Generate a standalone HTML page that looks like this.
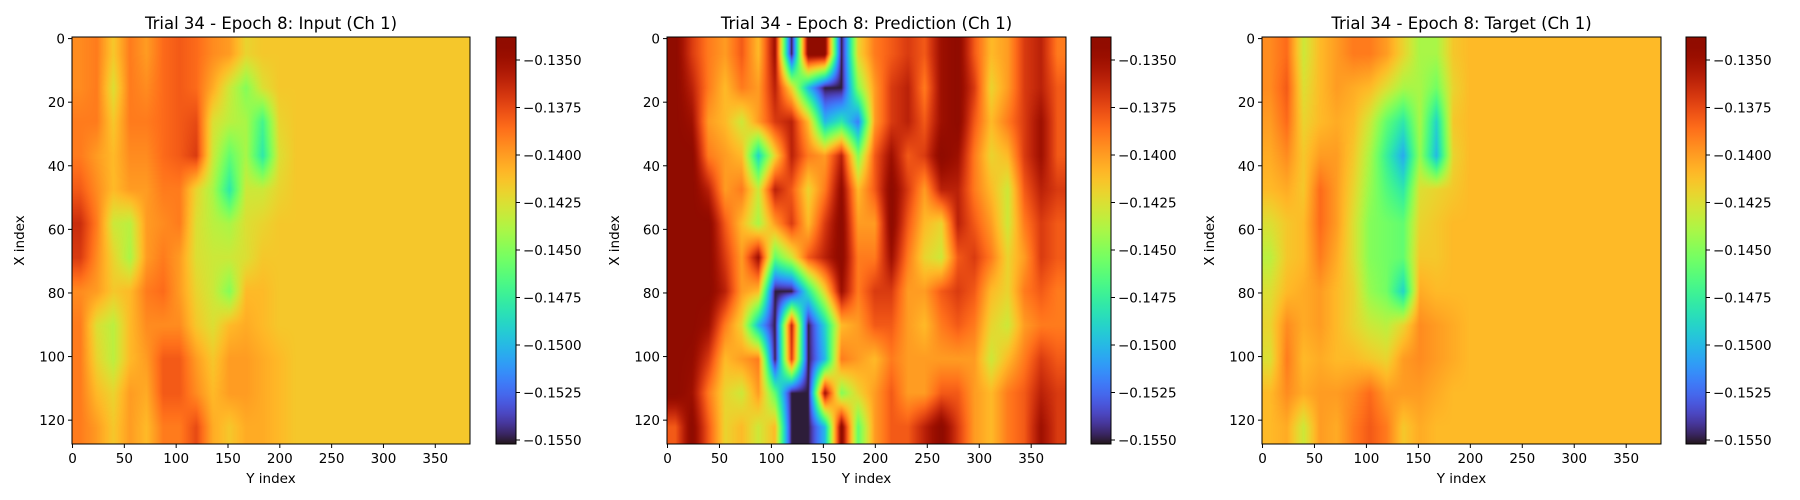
<!DOCTYPE html>
<html><head><meta charset="utf-8">
<style>
html,body{margin:0;padding:0;background:#fff;}
#root{position:relative;width:1800px;height:500px;overflow:hidden;font-family:"DejaVu Sans","Liberation Sans",sans-serif;}
canvas{position:absolute;}
svg{position:absolute;left:0;top:0;}
</style></head>
<body>
<div id="root">
<svg id="svg" width="1800" height="500"></svg>
</div>
<script>
// values in thousandths (e.g. -140 means -0.1400); rows = X index (12 bands), cols = Y index (24 bands)
const inputGrid = [
[-139.5,-139,-141.5,-139,-140,-138.5,-138,-138.5,-139.5,-140,-142,-141.5,-141.5,-141.5,-141.5,-141.5,-141.5,-141.5,-141.5,-141.5,-141.5,-141.5,-141.5,-141.5],
[-139.5,-139,-142.5,-139,-139.5,-138.5,-138,-138.5,-140.5,-143,-145,-142.5,-141.5,-141.5,-141.5,-141.5,-141.5,-141.5,-141.5,-141.5,-141.5,-141.5,-141.5,-141.5],
[-139,-139,-141.5,-139,-139,-138.5,-138,-137.5,-142.5,-143.5,-144,-147,-142,-141.5,-141.5,-141.5,-141.5,-141.5,-141.5,-141.5,-141.5,-141.5,-141.5,-141.5],
[-139,-140,-141,-139.5,-139.5,-138.5,-138,-137,-143,-146,-144,-148,-142.5,-141.5,-141.5,-141.5,-141.5,-141.5,-141.5,-141.5,-141.5,-141.5,-141.5,-141.5],
[-138,-139.5,-141,-140,-140,-139,-139,-142,-144,-148,-143,-143,-142,-141.5,-141.5,-141.5,-141.5,-141.5,-141.5,-141.5,-141.5,-141.5,-141.5,-141.5],
[-136.5,-139,-143,-143.5,-140,-139.5,-139,-142.5,-143.5,-144,-142.5,-142,-141.5,-141.5,-141.5,-141.5,-141.5,-141.5,-141.5,-141.5,-141.5,-141.5,-141.5,-141.5],
[-137,-139.5,-142,-144,-140,-139,-140,-142.5,-143,-143,-142.5,-141.5,-141.5,-141.5,-141.5,-141.5,-141.5,-141.5,-141.5,-141.5,-141.5,-141.5,-141.5,-141.5],
[-139.5,-140,-141.5,-141,-139,-138.5,-140,-142,-143,-145,-141,-141,-141.5,-141.5,-141.5,-141.5,-141.5,-141.5,-141.5,-141.5,-141.5,-141.5,-141.5,-141.5],
[-139,-142.5,-143.5,-141,-139.5,-139.5,-139.5,-141.5,-142.5,-141,-140.5,-141,-141.5,-141.5,-141.5,-141.5,-141.5,-141.5,-141.5,-141.5,-141.5,-141.5,-141.5,-141.5],
[-139,-142,-143.5,-141,-140,-138,-138,-140,-141.5,-140,-140,-140.5,-141,-141.5,-141.5,-141.5,-141.5,-141.5,-141.5,-141.5,-141.5,-141.5,-141.5,-141.5],
[-139,-141,-142,-140,-140.5,-138,-138,-139.5,-141,-140,-140,-140.5,-141,-141.5,-141.5,-141.5,-141.5,-141.5,-141.5,-141.5,-141.5,-141.5,-141.5,-141.5],
[-139,-140,-141.5,-140,-141,-139,-139,-137.5,-140.5,-141.5,-140.5,-140.5,-141,-141.5,-141.5,-141.5,-141.5,-141.5,-141.5,-141.5,-141.5,-141.5,-141.5,-141.5]
];
const predGrid = [
[-134,-137,-139,-140,-138,-141,-135,-155,-134,-134,-155,-142,-139,-138,-137,-138,-135,-134,-138,-141,-140,-137,-136,-139],
[-134,-136,-139,-141,-139,-140,-136,-142,-150,-155,-155,-145,-140,-137,-136,-139,-135,-134,-137,-142,-140,-137,-136,-138],
[-134,-135,-140,-141,-143,-140,-137,-136,-141,-150,-148,-152,-140,-137,-136,-138,-135,-134,-138,-141,-139,-137,-135,-138],
[-134,-134,-139,-140,-141,-149,-142,-136,-139,-140,-136,-145,-138,-135,-138,-137,-134,-135,-139,-142,-141,-137,-135,-138],
[-134,-134,-136,-140,-139,-143,-136,-138,-142,-139,-134.5,-141,-138,-134,-137,-140,-136,-136,-139,-141,-143,-138,-136,-137],
[-134,-134,-134,-138,-141,-144,-140,-137,-141,-137,-134,-140,-140,-134,-138,-141,-142,-136,-138,-140,-143,-139,-137,-138],
[-134,-134,-134,-137,-140,-135,-146,-143,-138,-136,-134,-139,-139,-135,-139,-142,-143,-138,-137,-139,-142,-140,-137,-138],
[-134,-134,-134,-136,-140,-141,-155,-155,-148,-142,-135,-139,-137,-137,-140,-140,-138,-137,-138,-141,-142,-139,-138,-139],
[-134,-134,-135,-139,-142,-150,-155,-136,-155,-149,-141,-140,-138,-138,-140,-141,-139,-138,-139,-142,-143,-140,-139,-139],
[-134,-134.5,-137,-141,-140,-139,-155,-137,-155,-150,-139,-140,-141,-139,-140,-140,-140,-140,-140,-143,-141,-139,-137,-138],
[-134,-135,-139,-142,-143,-140,-146,-155,-155,-135,-145,-142,-140,-138,-140,-140,-138,-138,-140,-141,-139,-138,-136,-137],
[-138,-134,-138,-142,-141,-143,-141,-155,-155,-150,-134,-146,-140,-138,-138,-136,-134,-137,-140,-141,-139,-138,-135,-137]
];
const targetGrid = [
[-139.5,-138.5,-143,-141,-140,-139,-139,-140,-142,-144,-144,-141.5,-141,-141,-141,-141,-141,-141,-141,-141,-141,-141,-141,-141],
[-139.5,-138,-142.5,-141,-140,-140.5,-141,-142.5,-144,-144,-145.5,-142,-141,-141,-141,-141,-141,-141,-141,-141,-141,-141,-141,-141],
[-140,-138.5,-142,-141,-140.5,-141,-143,-146,-148,-144,-149,-141.5,-141,-141,-141,-141,-141,-141,-141,-141,-141,-141,-141,-141],
[-140.5,-139.5,-141.5,-140,-140,-141.5,-144,-147.5,-150.5,-144.5,-150,-142,-141,-141,-141,-141,-141,-141,-141,-141,-141,-141,-141,-141],
[-141,-140.5,-141.5,-138.5,-140,-142,-144.5,-146.5,-148,-142.5,-142,-141.5,-141,-141,-141,-141,-141,-141,-141,-141,-141,-141,-141,-141],
[-142.5,-141.5,-141,-138.5,-140,-142.5,-145,-145.5,-146,-142,-141.5,-141,-141,-141,-141,-141,-141,-141,-141,-141,-141,-141,-141,-141],
[-143.5,-141.5,-141,-139,-140.5,-142.5,-145,-145.5,-146,-141.5,-141.5,-141,-141,-141,-141,-141,-141,-141,-141,-141,-141,-141,-141,-141],
[-142.5,-141,-140.5,-140,-141,-142,-144.5,-145.5,-149,-140.5,-141,-141,-141,-141,-141,-141,-141,-141,-141,-141,-141,-141,-141,-141],
[-142,-139.5,-140.5,-140,-141,-142,-143,-143.5,-142,-139.5,-140,-140.5,-141,-141,-141,-141,-141,-141,-141,-141,-141,-141,-141,-141],
[-142.5,-139,-141,-140.5,-141,-141,-141.5,-142,-140,-139.5,-140,-140.5,-141,-141,-141,-141,-141,-141,-141,-141,-141,-141,-141,-141],
[-141,-139.5,-140.5,-140,-140,-139.5,-138.5,-140,-140,-140,-140.5,-141,-141,-141,-141,-141,-141,-141,-141,-141,-141,-141,-141,-141],
[-141,-140.5,-143,-140,-140.5,-139,-138,-139,-141.5,-140.5,-141,-141,-141,-141,-141,-141,-141,-141,-141,-141,-141,-141,-141,-141]
];
const panelTitles = ["Trial 34 - Epoch 8: Input (Ch 1)","Trial 34 - Epoch 8: Prediction (Ch 1)","Trial 34 - Epoch 8: Target (Ch 1)"];
const xTicks = [0,50,100,150,200,250,300,350];
const yTicks = [0,20,40,60,80,100,120];
const cbarTicks = [-0.1350,-0.1375,-0.1400,-0.1425,-0.1450,-0.1475,-0.1500,-0.1525,-0.1550];
const vmin = -0.15521, vmax = -0.13379;
const NY = 384, NX = 128;

const panels = [{l:72,w:398,cb:496,name:'input'},{l:667,w:399,cb:1091,name:'prediction'},{l:1262,w:399,cb:1686,name:'target'}];
const grids = [inputGrid,predGrid,targetGrid];
const TOP = 37, H = 407, CBW = 20;
const FONT = 'DejaVu Sans, Liberation Sans, sans-serif';

function turbo(t){
  t=Math.max(0,Math.min(1,t));
  const r=0.13572138+t*(4.61539260+t*(-42.66032258+t*(132.13108234+t*(-152.94239396+t*59.28637943))));
  const g=0.09140261+t*(2.19418839+t*(4.84296658+t*(-14.18503333+t*(4.27729857+t*2.82956604))));
  const b=0.10667330+t*(12.64194608+t*(-60.58204836+t*(110.36276771+t*(-89.90310912+t*27.34824973))));
  return [Math.round(Math.max(0,Math.min(1,r))*255),Math.round(Math.max(0,Math.min(1,g))*255),Math.round(Math.max(0,Math.min(1,b))*255)];
}
const NS="http://www.w3.org/2000/svg";
const svg=document.getElementById('svg');
const root=document.getElementById('root');
function el(tag,attrs,parent){const e=document.createElementNS(NS,tag);for(const k in attrs)e.setAttribute(k,attrs[k]);(parent||svg).appendChild(e);return e;}
function txt(x,y,s,size,anchor,parent,extra){const t=el('text',Object.assign({x:x,y:y,'font-size':size,'text-anchor':anchor,fill:'#000','font-family':FONT},extra||{}),parent);t.textContent=s;return t;}
function fmt(v){return '\u2212'+Math.abs(v).toFixed(4);}

panels.forEach((p,pi)=>{
  const grid=grids[pi];
  const rows=grid.length, cols=grid[0].length;
  const cv=document.createElement('canvas');
  cv.width=p.w; cv.height=H;
  cv.style.left=p.l+'px'; cv.style.top=TOP+'px';
  
  
  root.insertBefore(cv,svg);
  const ctx=cv.getContext('2d');
  const img=ctx.createImageData(p.w,H);
  for(let py=0;py<H;py++){
    const xd=(py+0.5)/H*NX;
    let fr=xd/(NX/rows)-0.5; fr=Math.max(0,Math.min(rows-1,fr));
    const r0=Math.floor(fr), r1=Math.min(rows-1,r0+1), ar=fr-r0;
    for(let px=0;px<p.w;px++){
      const yd=(px+0.5)/p.w*NY;
      let fc=yd/(NY/cols)-0.5; fc=Math.max(0,Math.min(cols-1,fc));
      const c0=Math.floor(fc), c1=Math.min(cols-1,c0+1), ac=fc-c0;
      const v=(grid[r0][c0]*(1-ac)+grid[r0][c1]*ac)*(1-ar)+(grid[r1][c0]*(1-ac)+grid[r1][c1]*ac)*ar;
      const c=turbo((v/1000-vmin)/(vmax-vmin));
      const i=(py*p.w+px)*4;
      img.data[i]=c[0];img.data[i+1]=c[1];img.data[i+2]=c[2];img.data[i+3]=255;
    }
  }
  ctx.putImageData(img,0,0);

  const g=el('g',{});
  
  
  el('rect',{x:p.l,y:TOP,width:p.w,height:H,fill:'none',stroke:'#000','stroke-width':1},g);
  const t=txt(p.l+p.w/2,29,panelTitles[pi],16.5,'middle',g);
  
  
  const xs=v=>p.l+(v+0.5)/NY*p.w;
  const ys=v=>TOP+(v+0.5)/NX*H;
  xTicks.forEach(v=>{
    el('line',{x1:xs(v),x2:xs(v),y1:TOP+H,y2:TOP+H+4,stroke:'#000'},g);
    const tt=txt(xs(v),TOP+H+19,String(v),13.5,'middle',g);
    
    
  });
  yTicks.forEach(v=>{
    el('line',{x1:p.l-4,x2:p.l,y1:ys(v),y2:ys(v),stroke:'#000'},g);
    const tt=txt(p.l-7,ys(v)+5,String(v),13.5,'end',g);
    
    
  });
  const xl=txt(p.l+p.w/2,TOP+H+39,'Y index',13.5,'middle',g);
  
  
  const yl=txt(0,0,'X index',13.5,'middle',g,{transform:'translate('+(p.l-48)+','+(TOP+H/2)+') rotate(-90)'});
  
  

  const gradId='grad'+pi;
  const defs=el('defs',{},g);
  const lg=el('linearGradient',{id:gradId,x1:0,y1:1,x2:0,y2:0},defs);
  for(let k=0;k<=40;k++){const c=turbo(k/40);el('stop',{offset:k/40,'stop-color':'rgb('+c.join(',')+')'},lg);}
  const cb=el('rect',{x:p.cb,y:TOP,width:CBW,height:H,fill:'url(#'+gradId+')',stroke:'#000','stroke-width':1},g);
  
  
  const cs=v=>TOP+(vmax-v)/(vmax-vmin)*H;
  cbarTicks.forEach(v=>{
    el('line',{x1:p.cb+CBW,x2:p.cb+CBW+4,y1:cs(v),y2:cs(v),stroke:'#000'},g);
    const tt=txt(p.cb+CBW+7,cs(v)+5,fmt(v),13.5,'start',g);
    
    
  });
});
</script>
</body></html>
